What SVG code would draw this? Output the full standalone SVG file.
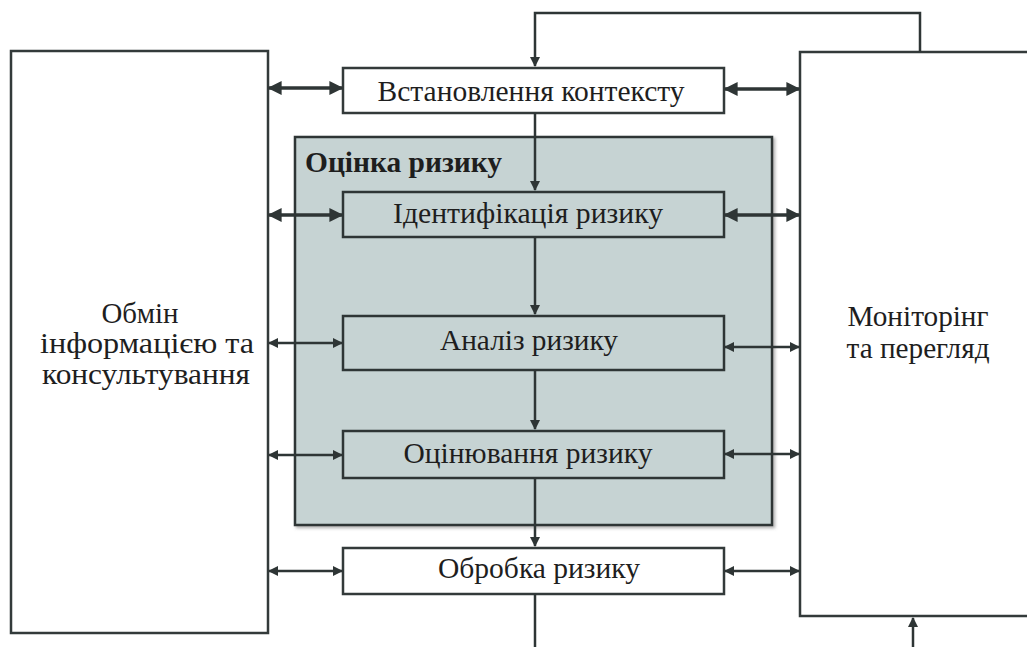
<svg xmlns="http://www.w3.org/2000/svg" width="1027" height="647" viewBox="0 0 1027 647">
<defs>
<style>
.box{fill:#ffffff;stroke:#333a3a;stroke-width:2.5}
.inner{fill:none;stroke:#2e3535;stroke-width:2.5}
.t{font-family:"Liberation Serif","DejaVu Serif",serif;font-size:30px;fill:#1e1e1e;text-anchor:middle}
.c{fill:none;stroke:#2e3535;stroke-width:2.5}
.thick{stroke-width:3.5}
</style>
<marker id="ah" viewBox="0 0 10 10" refX="9" refY="5" markerWidth="4" markerHeight="4" orient="auto-start-reverse" markerUnits="strokeWidth">
<path d="M0,0 L10,5 L0,10 z" fill="#2e3535"/>
</marker>
<filter id="sh" x="-5%" y="-5%" width="110%" height="110%">
<feDropShadow dx="2" dy="2" stdDeviation="1.5" flood-color="#666" flood-opacity="0.5"/>
</filter>
</defs>
<g id="exchange">
<rect class="box" x="11" y="51" width="257" height="582"/>
<text class="t" x="140" y="323" textLength="77" lengthAdjust="spacingAndGlyphs">Обмін</text>
<text class="t" x="147" y="353" textLength="214" lengthAdjust="spacingAndGlyphs">інформацією та</text>
<text class="t" x="146" y="384" textLength="208" lengthAdjust="spacingAndGlyphs">консультування</text>
</g>
<g id="monitoring">
<rect class="box" x="800" y="52" width="240" height="564"/>
<text class="t" x="918" y="326" textLength="141" lengthAdjust="spacingAndGlyphs">Моніторінг</text>
<text class="t" x="918" y="358" textLength="143" lengthAdjust="spacingAndGlyphs">та перегляд</text>
</g>
<g id="assessment">
<rect x="295" y="137" width="477" height="388" fill="#c6d3d3" stroke="#2e3535" stroke-width="2.5" filter="url(#sh)"/>
<text x="305" y="172" font-family="Liberation Serif, DejaVu Serif, serif" font-size="29" font-weight="bold" fill="#1e1e1e" textLength="197" lengthAdjust="spacingAndGlyphs">Оцінка ризику</text>
</g>
<g id="context">
<rect class="box" x="343" y="68" width="381" height="45"/>
<text class="t" x="531" y="101" textLength="307" lengthAdjust="spacingAndGlyphs">Встановлення контексту</text>
</g>
<g id="identification">
<rect class="inner" x="343" y="192" width="381" height="45"/>
<text class="t" x="528" y="223" textLength="270" lengthAdjust="spacingAndGlyphs">Ідентифікація ризику</text>
</g>
<g id="analysis">
<rect class="inner" x="343" y="316" width="381" height="54"/>
<text class="t" x="529" y="350" textLength="178" lengthAdjust="spacingAndGlyphs">Аналіз ризику</text>
</g>
<g id="evaluation">
<rect class="inner" x="343" y="431" width="381" height="47"/>
<text class="t" x="528" y="463" textLength="249" lengthAdjust="spacingAndGlyphs">Оцінювання ризику</text>
</g>
<g id="treatment">
<rect class="box" x="343" y="548" width="381" height="46"/>
<text class="t" x="539" y="578" textLength="202" lengthAdjust="spacingAndGlyphs">Обробка ризику</text>
</g>
<g id="connectors">
<path class="c" d="M920,52 V13 H535 V66" marker-end="url(#ah)"/>
<path class="c" d="M535,113 V190" marker-end="url(#ah)"/>
<path class="c" d="M535,237 V314" marker-end="url(#ah)"/>
<path class="c" d="M535,370 V429" marker-end="url(#ah)"/>
<path class="c" d="M535,478 V546" marker-end="url(#ah)"/>
<path class="c" d="M535,594 V647"/>
<path class="c" d="M913,647 V618" marker-end="url(#ah)"/>
<path class="c thick" d="M269,88 H342" marker-start="url(#ah)" marker-end="url(#ah)"/>
<path class="c thick" d="M269,215 H342" marker-start="url(#ah)" marker-end="url(#ah)"/>
<path class="c" d="M269,343 H342" marker-start="url(#ah)" marker-end="url(#ah)"/>
<path class="c" d="M269,455 H342" marker-start="url(#ah)" marker-end="url(#ah)"/>
<path class="c" d="M269,571 H342" marker-start="url(#ah)" marker-end="url(#ah)"/>
<path class="c thick" d="M725,89 H799" marker-start="url(#ah)" marker-end="url(#ah)"/>
<path class="c thick" d="M725,215 H799" marker-start="url(#ah)" marker-end="url(#ah)"/>
<path class="c" d="M725,347 H799" marker-start="url(#ah)" marker-end="url(#ah)"/>
<path class="c" d="M725,454 H799" marker-start="url(#ah)" marker-end="url(#ah)"/>
<path class="c" d="M725,571 H799" marker-start="url(#ah)" marker-end="url(#ah)"/>
</g>
</svg>
